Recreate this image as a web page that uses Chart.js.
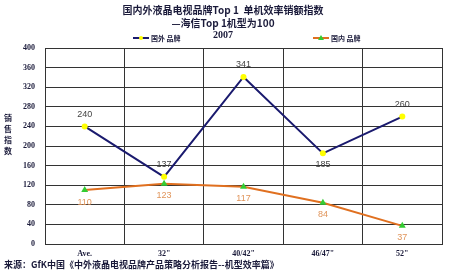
<!DOCTYPE html>
<html>
<head>
<meta charset="utf-8">
<script src="https://cdn.jsdelivr.net/npm/chart.js@4/dist/chart.umd.min.js"></script>
<style>
    html, body { margin: 0; padding: 0; background: #ffffff; }
    #wrap { width: 450px; height: 275px; }
</style>
</head>
<body>
<div id="wrap"><canvas id="myChart" width="450" height="275"></canvas></div>
<script>
// datos
const categorias = ['Ave.', '32"', '40/42"', '46/47"', '52"'];
const serieExtranjera = [240, 137, 341, 185, 260];
const serieNacional = [110, 123, 117, 84, 37];
const nombresSeries = ['国外 品牌', '国内 品牌'];
const tituloLineas = ['国内外液晶电视品牌Top 1  单机效率销额指数', '—海信Top 1机型为100'];
const subtitulo = '2007';
const tituloEjeY = ['销', '售', '指', '数'];
const fuente = '来源：GfK中国《中外液晶电视品牌产品策略分析报告--机型效率篇》';

const fam = '"Noto Sans CJK SC", "DejaVu Sans", sans-serif';

/*** etiquetas de valores, leyenda y textos extra ***/
const extras = {
    id: 'extras',
    afterDatasetsDraw(chart) {
        const ctx = chart.ctx;
        ctx.save();
        ctx.textAlign = 'center';
        ctx.textBaseline = 'middle';
        ctx.font = '9px "Liberation Sans", Arial, sans-serif';
        // serie extranjera
        const posExt = ['above', 'above', 'above', 'below', 'above'];
        chart.getDatasetMeta(0).data.forEach(function (p, i) {
            ctx.fillStyle = '#444444';
            let dy = posExt[i] == 'above' ? -12 : 11;
            ctx.fillText(serieExtranjera[i], p.x, p.y + dy);
        });
        // serie nacional
        chart.getDatasetMeta(1).data.forEach(function (p, i) {
            ctx.fillStyle = '#E0945A';
            ctx.fillText(serieNacional[i], p.x, p.y + 12);
        });
        ctx.restore();
    },
    afterDraw(chart) {
        const ctx = chart.ctx;
        ctx.save();
        // leyenda
        const items = [
            { x: 133, line: '#1a1a6e', pt: '#ffff00', tri: false },
            { x: 313, line: '#E07020', pt: '#33cc33', tri: true }
        ];
        items.forEach(function (it, i) {
            let y = 38;
            ctx.strokeStyle = it.line;
            ctx.lineWidth = 2;
            ctx.beginPath();
            ctx.moveTo(it.x, y);
            ctx.lineTo(it.x + 16, y);
            ctx.stroke();
            ctx.fillStyle = it.pt;
            ctx.beginPath();
            if (it.tri) {
                ctx.moveTo(it.x + 8, y - 3);
                ctx.lineTo(it.x + 11, y + 2);
                ctx.lineTo(it.x + 5, y + 2);
                ctx.closePath();
            } else {
                ctx.arc(it.x + 8, y, 2, 0, Math.PI * 2);
            }
            ctx.fill();
            ctx.fillStyle = '#1a1a3a';
            ctx.font = 'bold 7px ' + fam;
            ctx.textAlign = 'left';
            ctx.textBaseline = 'middle';
            ctx.fillText(nombresSeries[i], it.x + 18, y);
        });
        // titulo eje Y vertical
        ctx.fillStyle = '#1a1a3a';
        ctx.font = 'bold 8px ' + fam;
        ctx.textAlign = 'center';
        ctx.textBaseline = 'middle';
        tituloEjeY.forEach(function (c, i) {
            ctx.fillText(c, 8, 118 + i * 11);
        });
        // fuente
        ctx.font = 'bold 9px ' + fam;
        ctx.textAlign = 'left';
        ctx.fillStyle = '#1a1a3a';
        ctx.fillText(fuente, 4, 265);
        ctx.restore();
    }
};

let ctx = document.getElementById('myChart').getContext('2d');
new Chart(ctx, {
    type: 'line',
    data: {
        labels: categorias,
        datasets: [
            {
                label: nombresSeries[0],
                data: serieExtranjera,
                borderColor: '#1a1a6e',
                backgroundColor: '#ffff00',
                borderWidth: 2,
                pointRadius: 3,
                pointBorderWidth: 0,
                pointBackgroundColor: '#ffff00',
                tension: 0
            },
            {
                label: nombresSeries[1],
                data: serieNacional,
                borderColor: '#E07020',
                backgroundColor: '#33cc33',
                borderWidth: 2,
                pointStyle: 'triangle',
                pointRadius: 4,
                pointBorderWidth: 0,
                pointBackgroundColor: '#33cc33',
                tension: 0
            }
        ]
    },
    options: {
        responsive: false,
        animation: false,
        layout: { padding: { left: 4, right: 8, top: 0, bottom: 19 } },
        plugins: {
            legend: { display: false },
            tooltip: { enabled: false },
            title: {
                display: true,
                text: tituloLineas,
                color: '#1a1a3a',
                font: { family: fam, size: 10, weight: 'bold', lineHeight: 1.25 },
                padding: { top: 4, bottom: 0 }
            },
            subtitle: {
                display: true,
                text: subtitulo,
                color: '#1a1a3a',
                font: { family: '"Liberation Serif", serif', size: 10, weight: 'bold' },
                padding: { top: 0, bottom: 7 }
            }
        },
        scales: {
            x: {
                offset: true,
                grid: { offset: true, color: '#333333', lineWidth: 1, drawTicks: false },
                border: { color: '#333333' },
                afterFit: function (scale) { scale.height = 12; },
                ticks: {
                    color: '#1a1a3a',
                    padding: 5,
                    font: { family: '"Liberation Serif", serif', size: 8, weight: 'bold' }
                }
            },
            y: {
                min: 0,
                max: 400,
                grid: { color: '#333333', lineWidth: 1, drawTicks: false },
                border: { color: '#333333' },
                afterFit: function (scale) { scale.width = 41; },
                ticks: {
                    stepSize: 40,
                    color: '#1a1a3a',
                    padding: 10,
                    font: { family: '"Liberation Serif", serif', size: 8, weight: 'bold' }
                }
            }
        }
    },
    plugins: [extras]
});
</script>
</body>
</html>
